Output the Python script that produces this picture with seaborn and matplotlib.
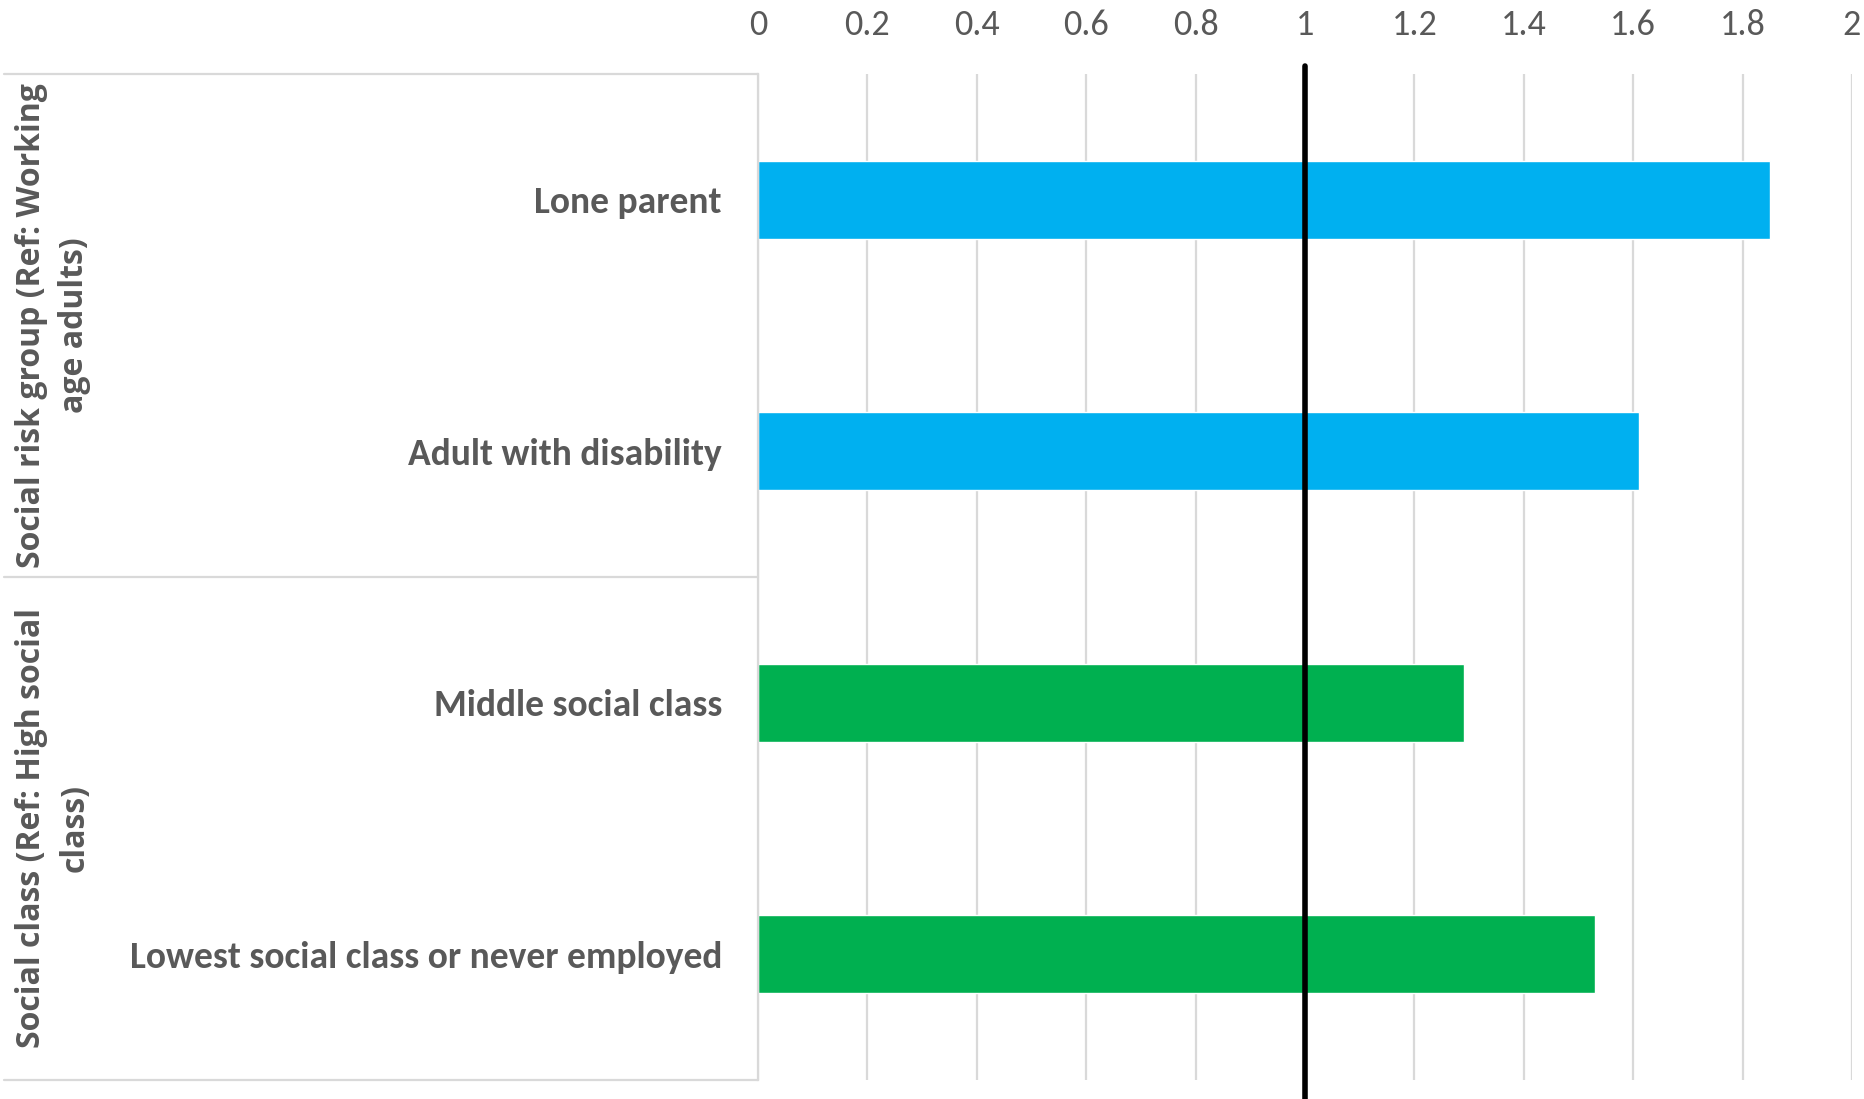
import matplotlib
matplotlib.use("Agg")
import matplotlib.pyplot as plt
import matplotlib.transforms as mtransforms
import seaborn as sns
import pandas as pd

# Odds ratios by group, reference category = 1
categories = ["Lone parent", "Adult with disability",
              "Middle social class", "Lowest social class or never employed"]
odds_ratios = [1.85, 1.61, 1.29, 1.53]
groups = ["Social risk group (Ref: Working\nage adults)",
          "Social risk group (Ref: Working\nage adults)",
          "Social class (Ref: High social\nclass)",
          "Social class (Ref: High social\nclass)"]
bar_colors = ["#00B0F0", "#00B0F0", "#00B050", "#00B050"]
x_ticks = [0, 0.2, 0.4, 0.6, 0.8, 1, 1.2, 1.4, 1.6, 1.8, 2]
x_tick_labels = ["0", "0.2", "0.4", "0.6", "0.8", "1", "1.2", "1.4", "1.6", "1.8", "2"]

df = pd.DataFrame({"category": categories, "value": odds_ratios, "group": groups})

sns.set_theme(style="white")
plt.rcParams["font.family"] = ["Carlito", "Liberation Sans Narrow", "Lato", "DejaVu Sans"]

TEXT = "#595959"
GRID = "#D9D9D9"

fig = plt.figure(figsize=(18.64, 10.99), dpi=100)
ax = fig.add_axes([758 / 1864, 1 - 1080 / 1099, (1852 - 758) / 1864, (1080 - 74) / 1099])

sns.barplot(data=df, y="category", x="value", hue="category", palette=bar_colors,
            orient="h", width=0.31, legend=False, ax=ax, saturation=1)

ax.set_xlim(0, 2)
ax.set_ylim(3.5, -0.5)
ax.set_xticks(x_ticks)
ax.set_xticklabels(x_tick_labels)
ax.xaxis.tick_top()
ax.tick_params(axis="x", length=0, pad=24, labelsize=26, labelcolor=TEXT)
ax.tick_params(axis="y", length=0, pad=26, labelsize=27, labelcolor=TEXT)
for lbl in ax.get_yticklabels():
    lbl.set_fontweight("bold")
ax.set_xlabel("")
ax.set_ylabel("")

ax.grid(axis="x", color=GRID, linewidth=1.6)
ax.set_axisbelow(True)
for side in ["top", "right", "bottom"]:
    ax.spines[side].set_visible(False)
ax.spines["left"].set_color(GRID)
ax.spines["left"].set_linewidth(1.6)

# Reference line at odds ratio 1
ref = mtransforms.blended_transform_factory(ax.transData, ax.transAxes)
ax.plot([1, 1], [-0.02, 1.008], transform=ref, color="black", linewidth=4,
        clip_on=False, zorder=5)

# Group boxes to the left of the bars
box = mtransforms.blended_transform_factory(ax.transAxes, ax.transData)
for y in [-0.5, 1.5, 3.5]:
    ax.plot([-0.689, 0], [y, y], transform=box, color=GRID, linewidth=1.6,
            clip_on=False)

group_names = list(dict.fromkeys(groups))
for i, name in enumerate(group_names):
    ax.text(-0.644, 0.5 + 2 * i, name, transform=box, rotation=90,
            ha="center", va="center", fontsize=23, fontweight="bold",
            color=TEXT, family=["Open Sans", "DejaVu Sans"], linespacing=1.4)

fig.savefig("out.png", dpi=100, facecolor="white")
